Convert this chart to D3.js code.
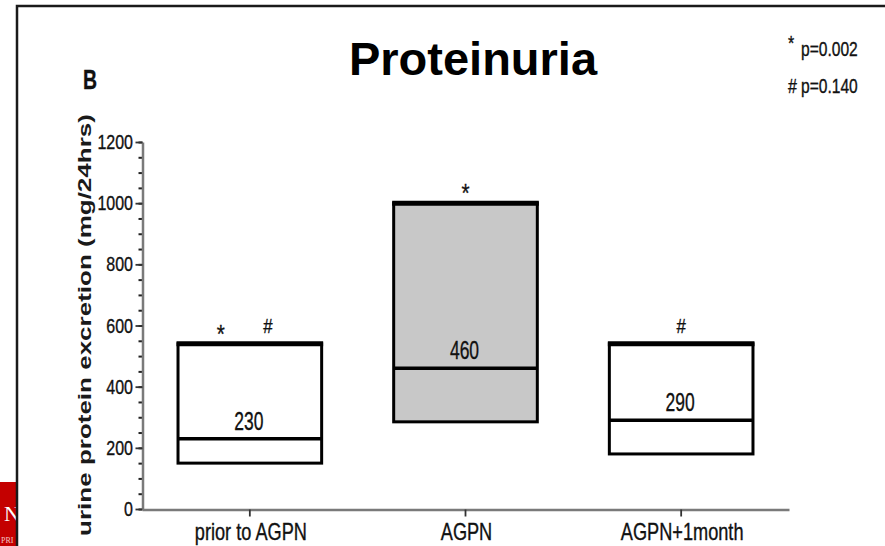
<!DOCTYPE html>
<html>
<head>
<meta charset="utf-8">
<script src="https://cdn.jsdelivr.net/npm/d3@7"></script>
<style>
  html, body { margin: 0; padding: 0; background: #ffffff; }
  svg { display: block; font-family: "Liberation Sans", Arial, Helvetica, sans-serif; }
</style>
</head>
<body>
<svg id="chart" width="885" height="546"></svg>
<script>
// Proteinuria: floating boxes (low–high) with median line per period
const categories = ["prior to AGPN", "AGPN", "AGPN+1month"];
const lowValues = [150, 285, 180];
const highValues = [540, 1000, 540];
const medianValues = [230, 460, 290];
const markers = [["*", "#"], ["*"], ["#"]];
const yTickValues = [0, 200, 400, 600, 800, 1000, 1200];
const pSymbols = ["*", "#"];
const pLabels = ["p=0.002", "p=0.140"];

const svg = d3.select("#chart");

// slide frame and cut-off logo at the lower left
svg.append("rect").attr("x", 0).attr("y", 482).attr("width", 17).attr("height", 64).attr("fill", "#c40000");
svg.append("text").attr("x", 4).attr("y", 521).attr("font-family", "Liberation Serif, serif")
  .attr("font-size", 22).attr("fill", "#ffffff").text("N");
svg.append("text").attr("x", 1).attr("y", 543).attr("font-family", "Liberation Serif, serif")
  .attr("font-size", 8).attr("fill", "#f3c6c6").text("PRI");
svg.append("path").attr("d", "M17,546 L17,6 L885,6")
  .attr("fill", "none").attr("stroke", "#1a1a1a").attr("stroke-width", 2.5);

// compressed text helper (horizontal squeeze)
function sText(g, x, y, str, size, sx, anchor, weight) {
  return g.append("text")
    .attr("transform", `translate(${x},${y}) scale(${sx},1)`)
    .attr("text-anchor", anchor || "start")
    .attr("font-size", size)
    .attr("font-weight", weight || "normal")
    .attr("fill", "#111")
    .attr("stroke", "#111")
    .attr("stroke-width", 0.35)
    .text(str);
}

// title
svg.append("text").attr("x", 473).attr("y", 75).attr("text-anchor", "middle")
  .attr("font-size", 47).attr("font-weight", "bold").attr("fill", "#000").text("Proteinuria");

// panel letter
sText(svg, 83, 89, "B", 27, 0.72, "start", "bold");

// p-value notes
pSymbols.forEach((s, i) => {
  const base = 56 + i * 37;
  sText(svg, 788, i === 0 ? base - 6 : base, s, 20, 0.8, "start");
  sText(svg, 801, base, pLabels[i], 20, 0.78, "start");
});

// scales
const x = d3.scaleBand().domain(categories).range([142, 789]).padding(0);
const y = d3.scaleLinear().domain([0, 1200]).range([509, 142]);
const boxW = x.bandwidth() * 0.666;

// y axis: minor and major ticks
const yMinor = svg.append("g").attr("transform", "translate(142.5,0)")
  .call(d3.axisLeft(y).tickValues(d3.range(0, 1201, 50)).tickSize(4).tickSizeOuter(0).tickFormat(""));
yMinor.select(".domain").remove();
yMinor.selectAll("line").attr("stroke", "#222").attr("stroke-width", 2);

const yMajor = svg.append("g").attr("transform", "translate(142.5,0)")
  .call(d3.axisLeft(y).tickValues(yTickValues).tickSize(7).tickSizeOuter(0).tickFormat(""));
yMajor.select(".domain").attr("stroke", "#7a7a7a").attr("stroke-width", 2.5);
yMajor.selectAll("line").attr("stroke", "#333").attr("stroke-width", 1.8);

yTickValues.forEach(v => {
  sText(svg, 133, y(v) + 7, String(v), 20, 0.8, "end");
});

// x axis
const xAxis = svg.append("g").attr("transform", "translate(0,509.5)")
  .call(d3.axisBottom(x).tickSize(7).tickSizeOuter(0).tickFormat(""));
xAxis.select(".domain").attr("stroke", "#7a7a7a").attr("stroke-width", 2.5);
xAxis.selectAll("line").attr("stroke", "#333").attr("stroke-width", 1.8);

categories.forEach(c => {
  sText(svg, x(c) + x.bandwidth() / 2 + 1, 540, c, 23, 0.79, "middle");
});

// y axis title
svg.append("text")
  .attr("transform", "translate(91,325) scale(0.7,1) rotate(-90)")
  .attr("text-anchor", "middle").attr("font-size", 26).attr("font-weight", "bold")
  .attr("fill", "#1a1a1a").text("urine protein excretion (mg/24hrs)");

// boxes
const boxes = svg.append("g");
categories.forEach((c, i) => {
  const cx = x(c) + x.bandwidth() / 2;
  const x0 = cx - boxW / 2, x1 = cx + boxW / 2;
  const yTop = y(highValues[i]), yBot = y(lowValues[i]), yMed = y(medianValues[i]);
  boxes.append("rect")
    .attr("x", x0).attr("y", yTop).attr("width", boxW).attr("height", yBot - yTop)
    .attr("fill", i === 1 ? "#c8c8c8" : "#ffffff")
    .attr("stroke", "#000").attr("stroke-width", 3);
  boxes.append("line").attr("x1", x0 - 1.5).attr("x2", x1 + 1.5).attr("y1", yTop).attr("y2", yTop)
    .attr("stroke", "#000").attr("stroke-width", 5);
  boxes.append("line").attr("x1", x0).attr("x2", x1).attr("y1", yMed).attr("y2", yMed)
    .attr("stroke", "#000").attr("stroke-width", 3.5);
  sText(boxes, cx - 1, yMed - 9, String(medianValues[i]), 25, 0.7, "middle");

  // significance markers above each box
  const m = markers[i];
  m.forEach((s, k) => {
    const mx = m.length === 2 ? cx + (k === 0 ? -29 : 18) : cx;
    if (s === "*") sText(boxes, mx, yTop - 1, s, 26, 0.8, "middle");
    else sText(boxes, mx, yTop - 11, s, 21, 0.8, "middle");
  });
});
</script>
</body>
</html>
